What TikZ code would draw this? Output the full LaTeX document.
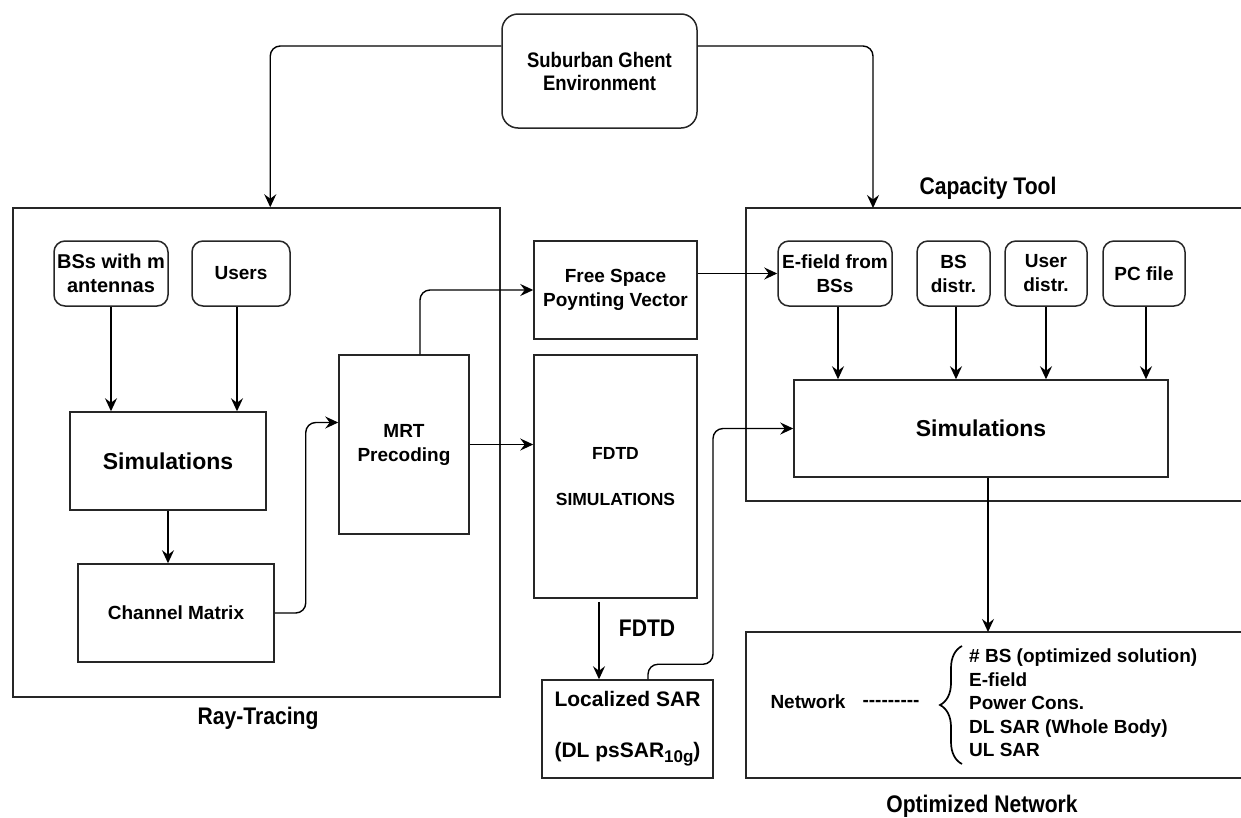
\documentclass[tikz,border=0pt]{standalone}
\usepackage{fontspec}
\setmainfont{Liberation Sans}
\newfontfamily\narrowfont{Liberation Sans}[FakeStretch=0.88]
\usetikzlibrary{arrows.meta,decorations.pathreplacing}

% a row of plain hyphens, kept apart so they do not turn into dashes
\newcommand{\hyrow}{\mbox{-}\mbox{-}\mbox{-}\mbox{-}\mbox{-}\mbox{-}\mbox{-}\mbox{-}\mbox{-}}

\tikzset{
  frame/.style={draw=black!85, line width=1.5pt},
  box/.style={frame, inner sep=0pt, align=center,
    font=\bfseries\fontsize{19}{24}\selectfont},
  rbox/.style={box, rounded corners=11pt},
  bigtxt/.style={font=\bfseries\fontsize{23}{27}\selectfont},
  title/.style={inner sep=0pt, font=\narrowfont\bfseries\fontsize{24}{27}\selectfont},
  arr/.style={draw=black, line width=1.4pt, rounded corners=10pt,
    -{Stealth[length=13pt,width=12pt,inset=4.5pt]}},
}

\begin{document}
\begin{tikzpicture}[x=1pt,y=-1pt]
\useasboundingbox (0,0) rectangle (1241,817);

% ---- environment at the top
\node[rbox, rounded corners=16pt, minimum width=195, minimum height=114,
  font=\narrowfont\bfseries\fontsize{21}{23}\selectfont]
  (env) at (599.5,71) {Suburban Ghent\\Environment};

% ---- ray-tracing block
\node[frame, minimum width=487, minimum height=489] (ray) at (256.5,452.5) {};
\node[title] (raylbl) at (258,718) {Ray-Tracing};

\node[rbox, minimum width=114, minimum height=65,
  font=\bfseries\fontsize{20}{24}\selectfont] (bsant) at (111,273.5) {BSs with m\\antennas};
\node[rbox, minimum width=98, minimum height=65] (users) at (241,273.5) {Users};
\node[box, bigtxt, minimum width=196, minimum height=98] (simL) at (168,461) {Simulations};
\node[box, minimum width=196, minimum height=98] (chan) at (176,613) {Channel Matrix};
\node[box, minimum width=130, minimum height=179] (mrt) at (404,444.5) {MRT\\Precoding};

% ---- middle column
\node[box, minimum width=163, minimum height=98] (fsp) at (615.5,290) {Free Space\\Poynting Vector};
\node[box, minimum width=163, minimum height=243,
  font=\bfseries\fontsize{17.5}{21}\selectfont] (fdtd) at (615.5,476.5) {FDTD\\[25pt]SIMULATIONS};
\node[box, minimum width=171, minimum height=98,
  font=\bfseries\fontsize{21}{24}\selectfont] (lsar) at (627.5,729)
  {Localized SAR\\[27pt](DL psSAR{\fontsize{17}{20}\selectfont\raisebox{-5pt}{10g}})};
\node[title] (fdtdlbl) at (647,628) {FDTD};

% ---- capacity tool block (runs on past the right edge)
\coordinate (capTL) at (746,208);
\coordinate (capBL) at (746,501);
\draw[frame] (1245,208) -- (capTL) -- (capBL) -- (1245,501);
\node[title] (caplbl) at (988,188) {Capacity Tool};

\node[rbox, minimum width=114, minimum height=65] (efield) at (835,273.5) {E-field from\\BSs};
\node[rbox, minimum width=73, minimum height=65] (bsd) at (953.5,273.5) {BS\\distr.};
\node[rbox, minimum width=82, minimum height=65] (usd) at (1046,273.5) {User\\distr.};
\node[rbox, minimum width=82, minimum height=65] (pcf) at (1144,273.5) {PC file};
\node[box, bigtxt, minimum width=374, minimum height=97] (simR) at (981,428.5) {Simulations};

% ---- optimized network block (also open on the right)
\coordinate (optTL) at (746,632);
\coordinate (optBL) at (746,778);
\draw[frame] (1245,632) -- (optTL) -- (optBL) -- (1245,778);
\coordinate (opttop) at (988,632);
\node[title] (optlbl) at (982,806) {Optimized Network};

\node[inner sep=0pt, font=\bfseries\fontsize{19}{23}\selectfont] (net) at (808,702) {Network};
\node[inner sep=0pt, font=\bfseries\fontsize{19}{23}\selectfont] (dash) at (891,703) {\hyrow};
\draw[line width=1.7pt, decorate, decoration={brace, amplitude=22pt}]
  (962,764) -- (962,646);
\node[inner sep=0pt, anchor=west, align=left,
  font=\bfseries\fontsize{19}{23.5}\selectfont] (list) at (969,703)
  {\# BS (optimized solution)\\E-field\\Power Cons.\\DL SAR (Whole Body)\\UL SAR};

% ---- connectors
\draw[arr] ([yshift=25pt]env.west) -| ([xshift=258pt]ray.north west);
\draw[arr] ([yshift=25pt]env.east) -| ([xshift=127pt]capTL);

\draw[arr] (bsant.south) -- (bsant.south |- simL.north);
\draw[arr] ([xshift=-4pt]users.south) -- ([xshift=-4pt]users.south |- simL.north);
\draw[arr] (simL.south) -- (simL.south |- chan.north);
\draw[arr] (chan.east) -- ++(31,0) |- ([yshift=22pt]mrt.west);
\draw[arr] ([xshift=16pt]mrt.north) |- (fsp.west);
\draw[arr] (mrt.east) -- (mrt.east -| fdtd.west);
\draw[arr] (efield.west -| fsp.east) -- (efield.west);
\draw[arr] ([xshift=-16.5pt,yshift=-3pt]fdtd.south) -- ([xshift=-16.5pt]fdtd.south |- lsar.north);
\draw[arr] ([xshift=20.5pt]lsar.north) -- ++(0,-15) -- ++(65,0) |- (simR.west);

\draw[arr] ([xshift=3pt]efield.south) -- ([xshift=3pt]efield.south |- simR.north);
\draw[arr] ([xshift=2.5pt]bsd.south) -- ([xshift=2.5pt]bsd.south |- simR.north);
\draw[arr] (usd.south) -- (usd.south |- simR.north);
\draw[arr] ([xshift=2pt]pcf.south) -- ([xshift=2pt]pcf.south |- simR.north);
\draw[arr] (simR.south -| opttop) -- (opttop);
\end{tikzpicture}
\end{document}
